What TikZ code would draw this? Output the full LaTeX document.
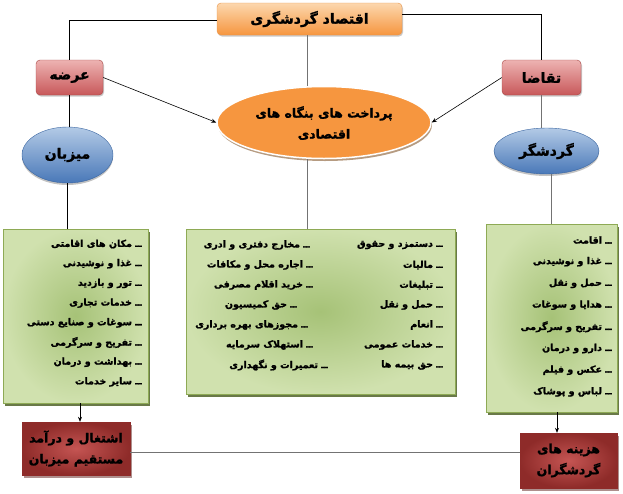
\documentclass[tikz,border=0pt]{standalone}
\usepackage{fontspec}
\TeXXeTstate=1
\newfontfamily\ar[Script=Arabic,BoldFont={DejaVu Sans Bold},BoldFeatures={FakeBold=1.5}]{DejaVu Sans}
\usetikzlibrary{shapes.geometric,arrows.meta,shadows}
\definecolor{orL}{HTML}{FCD7AE}
\definecolor{orM}{HTML}{F6963F}
\definecolor{orD}{HTML}{E8944A}
\definecolor{rdL}{HTML}{EDB3B2}
\definecolor{rdM}{HTML}{C8585A}
\definecolor{rdD}{HTML}{A84644}
\definecolor{blL}{HTML}{B3CAE6}
\definecolor{blM}{HTML}{4978B8}
\definecolor{blD}{HTML}{3A65A0}
\definecolor{grL}{HTML}{D0E1AE}
\definecolor{grM}{HTML}{A6C277}
\definecolor{grD}{HTML}{8EAA55}
\definecolor{grS}{HTML}{4F6228}
\definecolor{drI}{HTML}{C55553}
\definecolor{drO}{HTML}{8E2B29}
\definecolor{drS}{HTML}{5A1A18}
\begin{document}
\begin{tikzpicture}[x=1pt,y=-1pt,
  ttl/.style={font=\ar\bfseries\fontsize{14}{16}\selectfont, text=black},
  lbl/.style={font=\ar\bfseries\fontsize{12.5}{21}\selectfont, text=black, align=center},
  item/.style={anchor=east, inner sep=0pt, font=\ar\bfseries\fontsize{9.5}{11}\selectfont, text=black},
  orbox/.style={rectangle, rounded corners=4pt, draw=orD, top color=orL, bottom color=orM,
     drop shadow={shadow xshift=1pt, shadow yshift=-1.5pt, fill=black!35, opacity=0.6}},
  rdbox/.style={rectangle, rounded corners=4pt, draw=rdD, top color=rdL, bottom color=rdM,
     drop shadow={shadow xshift=1pt, shadow yshift=-1.5pt, fill=black!35, opacity=0.6}},
  blell/.style={ellipse, draw=blD, top color=blL, bottom color=blM, inner sep=0pt,
     drop shadow={shadow xshift=0pt, shadow yshift=-2pt, fill=black!40, opacity=0.6}},
  orell/.style={ellipse, draw=white, line width=1.5pt, fill=orM, inner sep=0pt,
     drop shadow={shadow xshift=1pt, shadow yshift=-2.5pt, fill=brown!70!black, opacity=0.6}},
  grbox/.style={rectangle, draw=grD, inner color=grM, outer color=grL,
     drop shadow={shadow xshift=2pt, shadow yshift=-2.5pt, fill=grS, opacity=0.85}},
  drbox/.style={rectangle, draw=drO, inner color=drI, outer color=drO,
     drop shadow={shadow xshift=2pt, shadow yshift=-2.5pt, fill=drS!70, opacity=0.7}},
  conn/.style={draw=black, line width=0.6pt},
  gconn/.style={draw=black!55, line width=0.6pt},
  arr/.style={draw=black, line width=0.6pt, -{Stealth[length=5pt,width=4pt]}}
]
\useasboundingbox (0,0) rectangle (623,493);

% main nodes
\node[orbox, minimum width=185pt, minimum height=32pt] (top) at (309.5,19) {};
\node[ttl] (toptxt) at (309.5,19) {\beginR اقتصاد گردشگری\endR};

\node[rdbox, minimum width=67pt, minimum height=35pt] (arz) at (69.5,77.5) {};
\node[ttl] (arztxt) at (69.5,77.5) {\beginR عرضه\endR};
\node[rdbox, minimum width=79pt, minimum height=35pt] (taq) at (541.5,77.5) {};
\node[ttl] (taqtxt) at (541.5,77.5) {\beginR تقاضا\endR};

\node[orell, minimum width=214pt, minimum height=72pt] (ce) at (324,122.5) {};
\node[lbl] (cetxt) at (324,123) {\beginR پرداخت های بنگاه های\endR\\\beginR اقتصادی\endR};

\node[blell, minimum width=91pt, minimum height=56pt] (miz) at (67.5,155) {};
\node[ttl] (miztxt) at (67.5,155) {\beginR میزبان\endR};
\node[blell, minimum width=105pt, minimum height=46pt] (gar) at (546.5,151) {};
\node[ttl] (gartxt) at (546.5,151) {\beginR گردشگر\endR};

\node[grbox, minimum width=145pt, minimum height=174pt] (g1) at (75.5,316) {};
\node[grbox, minimum width=269pt, minimum height=165pt] (g2) at (320.5,311.5) {};
\node[grbox, minimum width=131pt, minimum height=188pt] (g3) at (551.5,318) {};

\node[drbox, minimum width=108pt, minimum height=53pt] (b1) at (76,448.5) {};
\node[lbl] (b1txt) at (76,448.5) {\beginR اشتغال و درآمد\endR\\\beginR مستقیم میزبان\endR};
\node[drbox, minimum width=97pt, minimum height=55pt] (b2) at (568.5,460.5) {};
\node[lbl] (b2txt) at (568.5,460.5) {\beginR هزینه های\endR\\\beginR گردشگران\endR};

% left list
\node[item] (l1) at (142,244) {\beginR ــ مکان های اقامتی\endR};
\node[item] (l2) at (142,263.7) {\beginR ــ غذا و نوشیدنی\endR};
\node[item] (l3) at (142,283.4) {\beginR ــ تور و بازدید\endR};
\node[item] (l4) at (142,303.1) {\beginR ــ خدمات تجاری\endR};
\node[item] (l5) at (142,322.8) {\beginR ــ  سوغات و صنایع دستی\endR};
\node[item] (l6) at (142,342.5) {\beginR ــ تفریح و سرگرمی\endR};
\node[item] (l7) at (142,362.2) {\beginR ــ بهداشت و درمان\endR};
\node[item] (l8) at (142,381.9) {\beginR ــ سایر خدمات\endR};

% center list, right column
\node[item] (c1) at (443,245) {\beginR ــ دستمزد و حقوق\endR};
\node[item] (c2) at (443,265) {\beginR ــ مالیات\endR};
\node[item] (c3) at (443,285) {\beginR ــ تبلیغات\endR};
\node[item] (c4) at (443,305) {\beginR ــ حمل و نقل\endR};
\node[item] (c5) at (443,325) {\beginR ــ انعام\endR};
\node[item] (c6) at (443,345) {\beginR ــ خدمات عمومی\endR};
\node[item] (c7) at (443,365) {\beginR ــ حق بیمه ها\endR};
% center list, left column
\node[item] (d1) at (310,245) {\beginR ــ مخارج دفتری و ادری\endR};
\node[item] (d2) at (313,265) {\beginR ــ اجاره محل و مکافات\endR};
\node[item] (d3) at (313,285) {\beginR ــ خرید اقلام مصرفی\endR};
\node[item] (d4) at (297,305) {\beginR ــ حق کمیسیون\endR};
\node[item] (d5) at (308,325) {\beginR ــ مجوزهای بهره برداری\endR};
\node[item] (d6) at (313,345) {\beginR ــ استهلاک سرمایه\endR};
\node[item] (d7) at (328,365) {\beginR ــ تعمیرات و نگهداری\endR};

% right list
\node[item] (r1) at (612,240) {\beginR ــ اقامت\endR};
\node[item] (r2) at (612,261.7) {\beginR ــ غذا و نوشیدنی\endR};
\node[item] (r3) at (612,283.4) {\beginR ــ حمل و نقل\endR};
\node[item] (r4) at (612,305.1) {\beginR ــ هدایا و سوغات\endR};
\node[item] (r5) at (612,326.8) {\beginR ــ تفریح و سرگرمی\endR};
\node[item] (r6) at (612,348.5) {\beginR ــ دارو و درمان\endR};
\node[item] (r7) at (612,370.2) {\beginR ــ عکس و فیلم\endR};
\node[item] (r8) at (612,391.9) {\beginR ــ لباس و پوشاک\endR};

% connectors
\coordinate (tl) at (top.west |- 0,20);
\coordinate (tr) at (top.east |- 0,14);
\draw[conn] (tl) -| (arz.north);
\draw[conn] (tr) -| (taq.north);
\coordinate (cx) at (307,0);
\draw[gconn] (top.south -| cx) -- (cx |- ce.north);
\draw[gconn] (cx |- ce.south) -- (cx |- g2.north);
\draw[conn] (arz.south) -- (arz.south |- miz.north);
\draw[conn] (miz.south) -- (miz.south |- g1.north);
\draw[gconn] (taq.south) -- (taq.south |- gar.north);
\coordinate (gx) at (551,0);
\draw[gconn] (gx |- gar.south) -- (gx |- g3.north);
\draw[arr] (arz.east) -- (ce.west);
\draw[arr] (taq.west) -- (ce.east);
\coordinate (ax1) at (80,0);
\draw[arr] (ax1 |- g1.south) -- (ax1 |- b1.north);
\coordinate (ax2) at (557,0);
\draw[arr] (ax2 |- g3.south) -- (ax2 |- b2.north);
\coordinate (hy) at (0,452);
\draw[gconn] (b1.east |- hy) -- (b2.west |- hy);
\end{tikzpicture}
\end{document}
